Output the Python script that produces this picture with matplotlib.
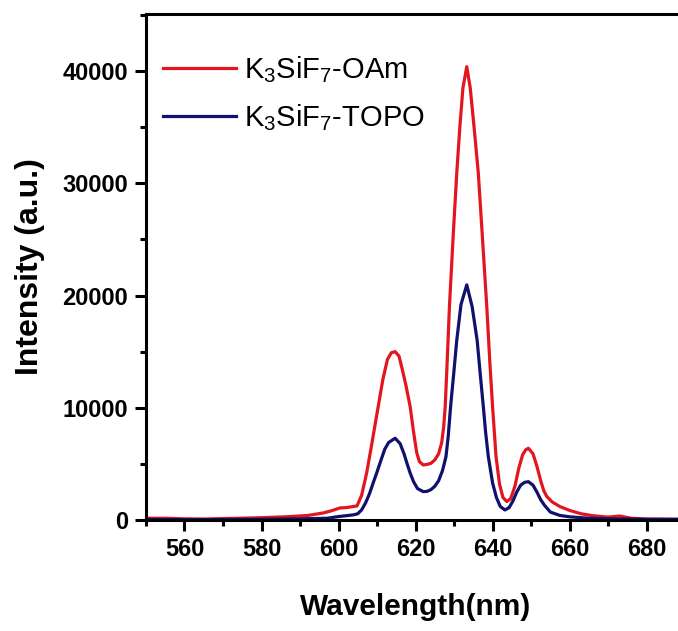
import matplotlib
matplotlib.use('Agg')
import matplotlib.pyplot as plt
from matplotlib.ticker import MultipleLocator

# emission spectra
wl_oam = [550, 555, 560, 565, 570, 574, 580, 587.4, 592, 596, 598, 600.4, 602, 604.8,
          606, 607.3, 608.5, 610.3, 611.5, 612.7, 613.7, 614.7, 615.7, 616.5, 617.5, 618.6,
          619.5, 620.3, 621, 622, 623, 624, 625, 626, 626.8, 627.3, 627.7, 628.2, 628.8,
          629.8, 630.7, 631.5, 632.3, 633.3, 634.2, 635.2, 636.3, 637.4, 638.5, 639.3,
          640, 640.9, 641.8, 642.7, 643.7, 644.7, 645.8, 646.8, 647.8, 648.6, 649.3, 650.5,
          651.5, 652.5, 653.3, 654.1, 655.5, 657.5, 660, 663, 666, 670, 673, 676, 680, 690, 700]
int_oam = [150, 150, 100, 80, 120, 150, 200, 300, 400, 620, 800, 1070, 1100, 1250,
           2200, 4180, 6500, 10100, 12500, 14300, 14900, 15000, 14600, 13500, 12000, 10100,
           7800, 6000, 5200, 4900, 4950, 5050, 5350, 5900, 6900, 8300, 10100, 14000, 19000,
           25500, 30900, 35000, 38500, 40400, 38500, 35000, 30900, 25000, 19000, 14000,
           10100, 5640, 3200, 2000, 1640, 1900, 3000, 4600, 5800, 6250, 6390, 5900,
           4800, 3500, 2600, 2080, 1600, 1190, 850, 550, 380, 250, 350, 150, 80, 50, 50]

wl_topo = [550, 560, 570, 580, 590, 597, 600, 603.8, 605, 606, 607, 608, 609, 609.9,
           611, 612, 613, 614.7, 616, 617, 618, 618.6, 619.5, 620.5, 622, 623, 624, 625,
           626, 627, 627.9, 628.5, 629.1, 629.9, 630.7, 631.8, 633.3, 634.7, 636, 636.8,
           637.6, 638.2, 638.9, 640, 641, 642, 643.2, 644.3, 645.3, 646.3, 647.3, 648.3,
           649.3, 650.5, 651.5, 652.5, 653.5, 655, 657.5, 660, 665, 670, 680, 700]
int_topo = [50, 30, 40, 60, 100, 150, 300, 450, 550, 900, 1500, 2300, 3300, 4180,
            5300, 6300, 6900, 7280, 6800, 5900, 4800, 4180, 3400, 2800, 2520, 2550, 2700, 3000,
            3500, 4400, 5640, 7500, 10100, 13000, 16000, 19200, 20950, 19000, 16000, 13000,
            10100, 7800, 5640, 3300, 2000, 1200, 890, 1100, 1700, 2500, 3100, 3350,
            3410, 3100, 2500, 1800, 1300, 700, 400, 280, 150, 100, 60, 50]

labels = ['K$_3$SiF$_7$-OAm', 'K$_3$SiF$_7$-TOPO']
colors = ['#e2161e', '#10106e']

plt.rcParams['font.family'] = ['Liberation Sans', 'DejaVu Sans']
plt.rcParams['mathtext.fontset'] = 'custom'
plt.rcParams['mathtext.rm'] = 'Liberation Sans'
plt.rcParams['mathtext.it'] = 'Liberation Sans'

fig = plt.figure(figsize=(6.78, 6.31), dpi=100)
# axes run past the right edge, as in the cropped original
ax = fig.add_axes([0.2153, 0.176, 0.852, 0.802])

ax.plot(wl_oam, int_oam, color=colors[0], lw=2.3, label=labels[0])
ax.plot(wl_topo, int_topo, color=colors[1], lw=2.3, label=labels[1])

ax.set_xlim(550, 700)
ax.set_ylim(0, 45100)
ax.set_xticks(range(560, 700, 20))
ax.xaxis.set_minor_locator(MultipleLocator(10))
ax.yaxis.set_major_locator(MultipleLocator(10000))
ax.yaxis.set_minor_locator(MultipleLocator(5000))

for s in ax.spines.values():
    s.set_linewidth(2.2)
ax.tick_params(which='major', direction='out', length=8, width=2.2, pad=5, labelsize=17)
ax.tick_params(which='minor', direction='out', length=4, width=2.2)
for t in ax.get_xticklabels() + ax.get_yticklabels():
    t.set_fontweight('bold')

ax.set_xlabel('Wavelength(nm)', fontsize=21.5, fontweight='bold')
ax.xaxis.set_label_coords(0.466, -0.145)
ax.set_ylabel('Intensity (a.u.)', fontsize=23, fontweight='bold')
ax.yaxis.set_label_coords(-0.175, 0.5)

ax.legend(loc='upper left', frameon=False, fontsize=21, handlelength=2.5,
          handletextpad=0.28, labelspacing=0.6, borderaxespad=0, borderpad=0,
          bbox_to_anchor=(0.029, 0.92))

fig.savefig('out.png', dpi=100)
